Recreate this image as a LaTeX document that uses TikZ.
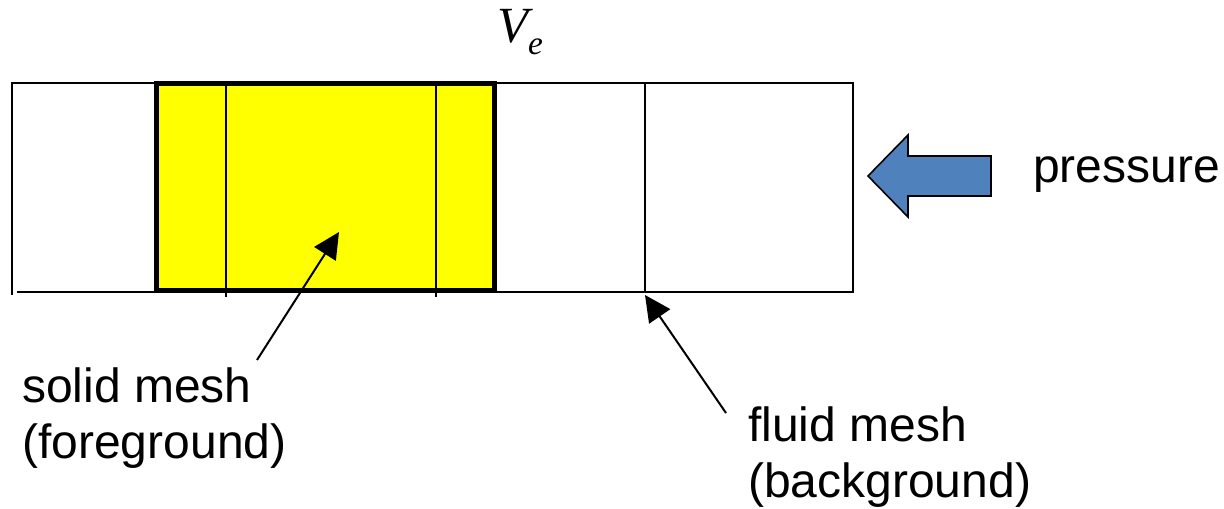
\documentclass[tikz,border=0pt]{standalone}
\usepackage{fontspec}
\setmainfont{Liberation Sans}
\newfontfamily\tmsfont{Liberation Serif}
\usetikzlibrary{arrows.meta}
\definecolor{pblue}{HTML}{4F81BD}
\definecolor{solidyellow}{HTML}{FFFF00}
\begin{document}
\begin{tikzpicture}[x=0.75pt,y=-0.75pt,
  meshline/.style={line width=1.4pt, line cap=rect},
  solidbox/.style={fill=solidyellow, draw=black, line width=3.75pt},
  lbl/.style={inner sep=0pt, align=left, font=\fontsize{36}{42.5}\selectfont},
  ptr/.style={line width=1.5pt, -{Triangle[length=19.5pt,width=19pt]}},
  bluearrow/.style={fill=pblue, draw=black, line width=1.2pt, line join=miter}
]
\useasboundingbox (0,0) rectangle (1224,508);
\fill[white] (0,0) rectangle (1224,508);
% fluid mesh (background)
\draw[meshline] (12,83) -- (853,83);
\draw[meshline] (18,292) -- (853,292);
\draw[meshline] (12,83) -- (12,294);
\draw[meshline] (645,83) -- (645,292);
\draw[meshline] (853,83) -- (853,292);
% solid mesh (foreground)
\path[solidbox] (156.5,83) rectangle (494,290);
\draw[meshline] (226,86) -- (226,296);
\draw[meshline] (436,86) -- (436,296);
% V_e
\node[anchor=base west, inner sep=0pt, font=\tmsfont\itshape\fontsize{38}{38}\selectfont] (ve) at (497,42)
  {V\raisebox{-9pt}{\fontsize{25}{25}\selectfont e}};
% pressure arrow
\path[bluearrow] (868,176) -- (908,135) -- (908,156) -- (991,156) -- (991,196) -- (908,196) -- (908,217) -- cycle;
\node[lbl, anchor=base west] (press) at (1033,182) {pressure};
% labels
\node[lbl, anchor=north west] (solid) at (22,367) {solid mesh\\(foreground)};
\node[lbl, anchor=north west] (fluid) at (748,406) {fluid mesh\\(background)};
\coordinate (s1) at (257,360);
\coordinate (t1) at (339,232);
\coordinate (s2) at (726,413);
\coordinate (t2) at (645,295);
\draw[ptr] (s1) -- (t1);
\draw[ptr] (s2) -- (t2);
\end{tikzpicture}
\end{document}
